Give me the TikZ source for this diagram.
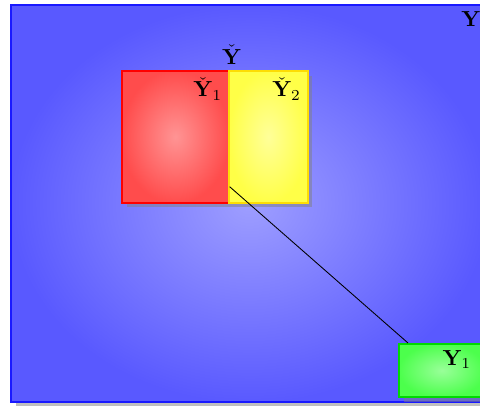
\documentclass[tikz,border=0pt]{standalone}
\usepackage{amsmath}
\usetikzlibrary{positioning,shadows}

\begin{document}
\begin{tikzpicture}[x=0.46pt,y=-0.46pt,every node/.style={font=\normalsize},
        set/.style={draw,line width=0.8pt,rectangle,inner sep=0pt,drop shadow,anchor=north west},
        tag/.style={anchor=north east}]
        \useasboundingbox (0,0) rectangle (480,406);
        \clip (0,0) rectangle (480,406);
        \node[set,draw=blue!90,inner color=blue!38,outer color=blue!65,minimum width=219.4pt,minimum height=182.6pt] (Y) at (10,4) {};
        \node[set,draw=red,inner color=red!42,outer color=red!70,minimum width=49.2pt,minimum height=60.7pt] (Y1c) at (121,70) {};
        \node[set,draw=yellow!80!orange,inner color=yellow!40,outer color=yellow!72,minimum width=36.3pt,minimum height=60.7pt] (Y2c) at (228,70) {};
        \node[set,draw=green!85!black,inner color=green!40,outer color=green!70,minimum width=39.6pt,minimum height=24.4pt] (Y1) at (398,343) {};
        \draw ([yshift=7.8pt]Y1c.south east) -- ([xshift=4.6pt]Y1.north west);
        \node[tag] (lY) at (Y.north east) {$\mathbf{Y}$};
        \node[tag] (lY1c) at (Y1c.north east) {$\check{\mathbf{Y}}_1$};
        \node[tag] (lY2c) at (Y2c.north east) {$\check{\mathbf{Y}}_2$};
        \node[above=-1pt of Y2c.north west,xshift=1.8pt] (lYc) {$\check{\mathbf{Y}}$};
        \node[tag] (lY1) at ([xshift=-3.2pt]Y1.north east) {$\mathbf{Y}_1$};
    \end{tikzpicture}
\end{document}
